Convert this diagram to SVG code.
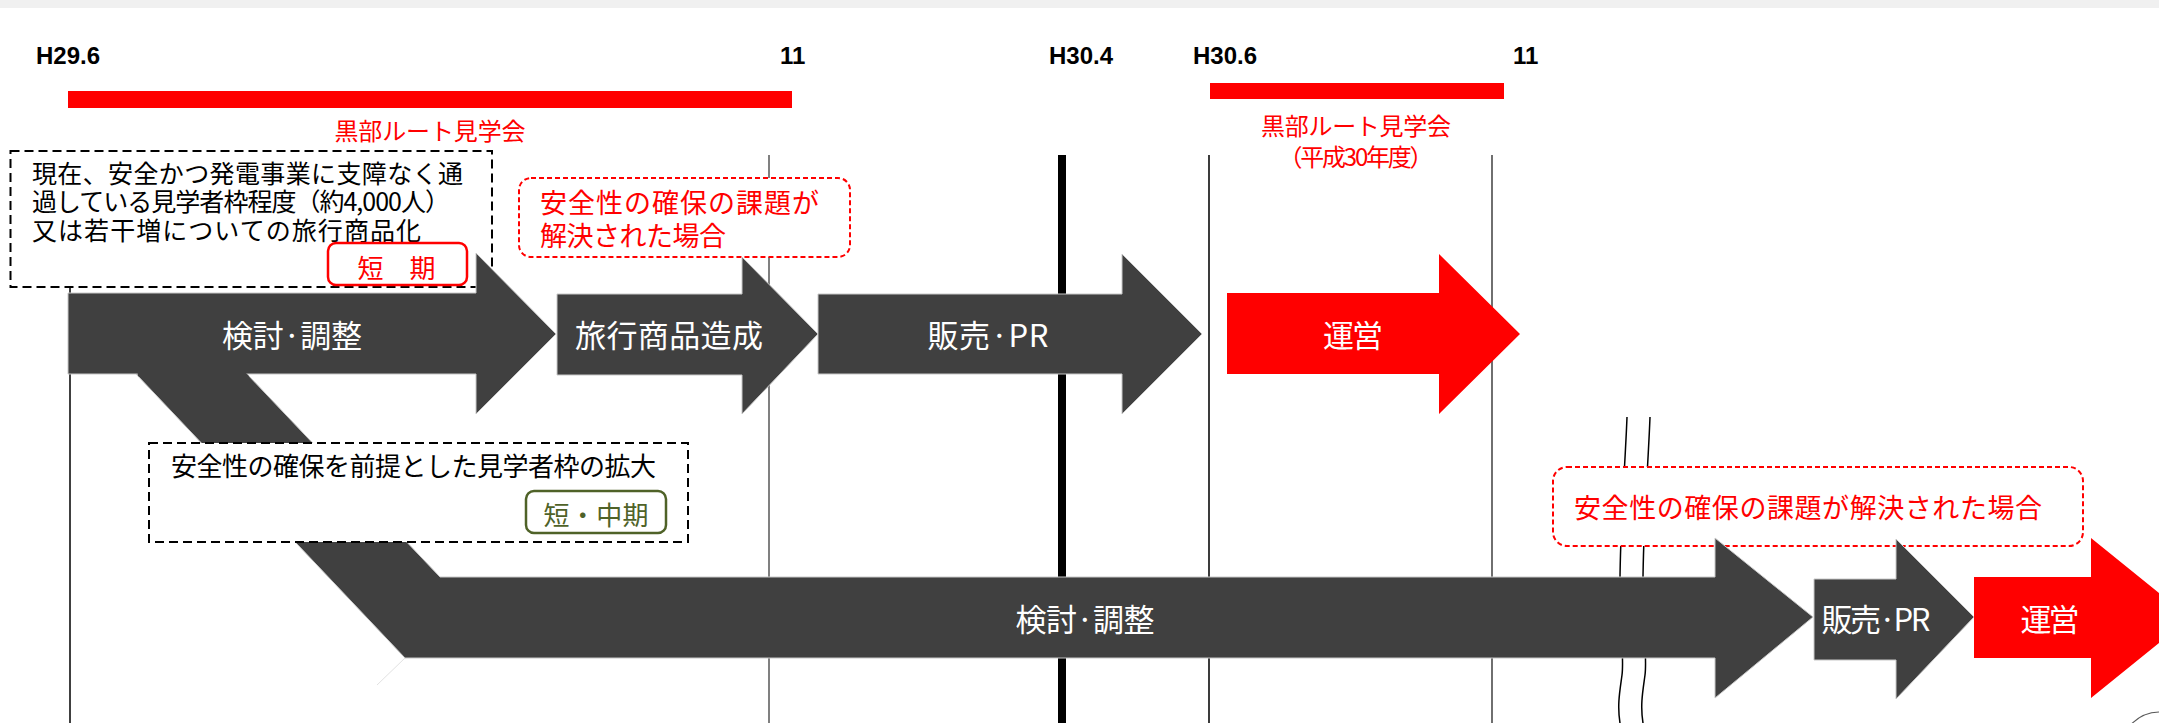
<svg xmlns="http://www.w3.org/2000/svg" width="2159" height="723" viewBox="0 0 2159 723">
<defs>
<style>
.jp{font-family:'Noto Sans CJK JP','Noto Sans',sans-serif}
.hdr{font-family:'Liberation Sans',Arial,sans-serif;font-weight:bold;font-size:24px;fill:#000}
.dark{fill:#404040;stroke:#c8c8c8;stroke-width:1}
.redarrow{fill:#ff0000}
.lbl{fill:#fff;font-size:31px;text-anchor:middle}
.bdash{fill:#fff;stroke:#000;stroke-width:2;stroke-dasharray:9 5}
.rdash{fill:#fff;stroke:#ff0000;stroke-width:2;stroke-dasharray:5 3}
.body{font-size:25px;fill:#000}
.redtxt{font-size:24px;fill:#ff0000;text-anchor:middle}
.redbar{fill:#ff0000}
.squig{fill:none;stroke:#000;stroke-width:1.5}
</style>
</defs>
<rect x="0" y="0" width="2159" height="723" fill="#fff"/>
<rect x="0" y="0" width="2159" height="8" fill="#f0f0f0"/>

<g id="timeline-labels">
<text class="hdr" x="36" y="64">H29.6</text>
<text class="hdr" x="780" y="64">11</text>
<text class="hdr" x="1049" y="64">H30.4</text>
<text class="hdr" x="1193" y="64">H30.6</text>
<text class="hdr" x="1513" y="64">11</text>
</g>

<g id="tour-period-2017">
<rect class="redbar" x="68" y="91" width="724" height="17"/>
<text class="jp redtxt" x="430" y="140" textLength="191">黒部ルート見学会</text>
</g>
<g id="tour-period-2018">
<rect class="redbar" x="1210" y="83" width="294" height="16"/>
<text class="jp redtxt" x="1356" y="135" textLength="190">黒部ルート見学会</text>
<text class="jp redtxt" x="1356" y="166" textLength="155">（平成30年度）</text>
</g>

<g id="connectors">
<line x1="70" y1="288" x2="70" y2="723" stroke="#000" stroke-width="1.5"/>
<line x1="769" y1="155" x2="769" y2="723" stroke="#808080" stroke-width="2"/>
<line x1="1062" y1="155" x2="1062" y2="723" stroke="#000" stroke-width="8"/>
<line x1="1209" y1="155" x2="1209" y2="723" stroke="#262626" stroke-width="1.8"/>
<line x1="1492" y1="155" x2="1492" y2="723" stroke="#333" stroke-width="1.4"/>
<path class="squig" d="M1627,417 C1625,470 1619,540 1620,600 C1621,640 1624,660 1622,675 C1620,690 1617,705 1620,723"/>
<path class="squig" d="M1650,417 C1648,470 1642,540 1643,600 C1644,640 1647,660 1645,675 C1643,690 1640,705 1643,723"/>
<line x1="405" y1="658" x2="377" y2="685" stroke="#e2e2e2" stroke-width="1"/>
</g>

<g id="note-short-term">
<rect class="bdash" x="10.5" y="151" width="481.5" height="136"/>
<text class="jp body" x="32" y="183" textLength="431">現在、安全かつ発電事業に支障なく通</text>
<text class="jp body" x="32" y="211" textLength="418">過している見学者枠程度（約4,000人）</text>
<text class="jp body" x="32" y="240" textLength="389">又は若干増についての旅行商品化</text>
<rect x="328" y="243" width="139" height="42" rx="8" fill="#fff" stroke="#ff0000" stroke-width="2.5"/>
<text class="jp" x="396.5" y="278" font-size="26" fill="#ff0000" text-anchor="middle">短　期</text>
</g>

<g id="condition-1">
<rect class="rdash" x="519" y="178" width="331" height="79" rx="12"/>
<text class="jp" x="540" y="213" font-size="27" fill="#ff0000" textLength="279">安全性の確保の課題が</text>
<text class="jp" x="540" y="246" font-size="27" fill="#ff0000" textLength="186">解決された場合</text>
</g>

<g id="condition-2">
<rect class="rdash" x="1553" y="467" width="530" height="79" rx="14"/>
<text class="jp" x="1574" y="518" font-size="27" fill="#ff0000" textLength="468">安全性の確保の課題が解決された場合</text>
</g>

<g id="step-review-long">
<polygon class="dark" points="136,374 247,374 440,577 1715,577 1715,538 1813,617 1715,698 1715,658 405,658"/>
<text class="jp lbl" x="1085" y="631" textLength="139">検討·調整</text>
</g>

<g id="step-review-short">
<polygon class="dark" points="68,293 476,293 476,253 556,334 476,414 476,374 68,374"/>
<polygon points="137,371 244,371 249.3,376.5 138.5,376.5" fill="#404040"/>
<text class="jp lbl" x="292" y="347" textLength="140">検討·調整</text>
</g>

<g id="step-product">
<polygon class="dark" points="557,294 742,294 742,257 818,334 742,414 742,375 557,375"/>
<text class="jp lbl" x="669" y="347" textLength="188">旅行商品造成</text>
</g>

<g id="step-sales-short">
<polygon class="dark" points="818,294 1122,294 1122,254 1202,334 1122,414 1122,374 818,374"/>
<text class="jp lbl" x="988" y="347" textLength="121">販売·PR</text>
</g>

<g id="step-operation-short">
<polygon class="redarrow" points="1227,293 1439,293 1439,254 1520,334 1439,414 1439,374 1227,374"/>
<text class="jp lbl" x="1353" y="347" textLength="60">運営</text>
</g>

<g id="step-sales-long">
<polygon class="dark" points="1814,579 1896,579 1896,539 1974,617 1896,699 1896,660 1814,660"/>
<text class="jp lbl" x="1876" y="631" textLength="109">販売·PR</text>
</g>

<g id="step-operation-long">
<polygon class="redarrow" points="1974,577 2091,577 2091,538 2190,618 2091,698 2091,658 1974,658"/>
<text class="jp lbl" x="2050" y="631" textLength="59">運営</text>
</g>

<g id="note-mid-term">
<rect class="bdash" x="149" y="443" width="539" height="99"/>
<text class="jp" x="171" y="476" font-size="26" fill="#000" textLength="485">安全性の確保を前提とした見学者枠の拡大</text>
<rect x="526" y="491" width="140" height="42" rx="8" fill="#fff" stroke="#4f6228" stroke-width="2.5"/>
<text class="jp" x="596" y="525" font-size="26" fill="#4f6228" text-anchor="middle" textLength="105">短・中期</text>
</g>

<g id="corner-mark">
<circle cx="2160" cy="752" r="40" fill="none" stroke="#595959" stroke-width="1.2"/>
</g>
</svg>
